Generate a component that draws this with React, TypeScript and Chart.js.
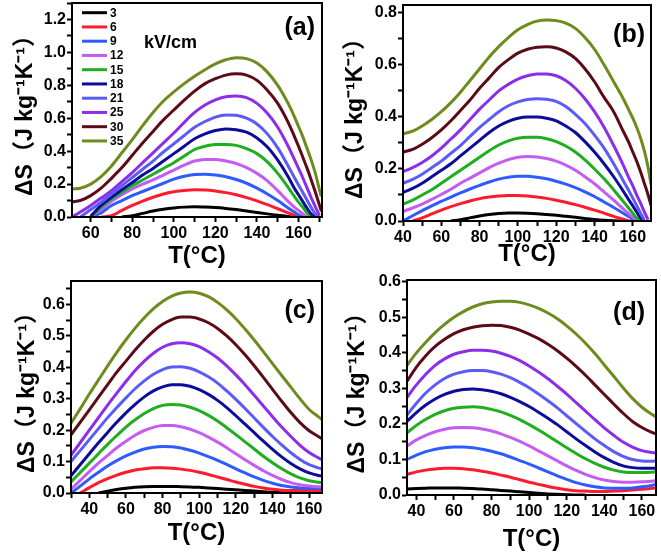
import React, { useEffect, useRef } from "react";
import { Chart, registerables } from "chart.js";
Chart.register(...registerables);

const FONT = "'Liberation Sans', Arial, 'Noto Sans CJK SC', sans-serif";

const fieldLabels = ["3", "6", "9", "12", "15", "18", "21", "25", "30", "35"];
const lineColors = ["#000000", "#ff1a2e", "#2e5bff", "#c45cf2", "#1eae1e", "#0c0c9a", "#5b5bf7", "#8c2ee8", "#5c0b16", "#6e8b1d"];
const n = null;

// ---------- panel (a) ----------
const tempA = [51, 55, 60, 65, 70, 75, 80, 85, 90, 95, 100, 105, 110, 115, 120, 125, 130, 135, 140, 145, 150, 155, 158, 160, 162, 164, 166, 168, 170, 171];
const a3 = [n, n, n, n, n, 0, 0.008, 0.022, 0.036, 0.047, 0.055, 0.06, 0.062, 0.06, 0.057, 0.052, 0.045, 0.037, 0.028, 0.019, 0.01, 0.003, 0, n, n, n, n, n, n, n];
const a6 = [n, n, n, 0, 0.008, 0.04, 0.07, 0.097, 0.12, 0.14, 0.153, 0.161, 0.165, 0.164, 0.158, 0.148, 0.135, 0.118, 0.098, 0.075, 0.05, 0.025, 0.01, 0, n, n, n, n, n, n];
const a9 = [n, n, 0, 0.025, 0.07, 0.1, 0.13, 0.155, 0.18, 0.205, 0.23, 0.248, 0.258, 0.26, 0.255, 0.245, 0.228, 0.205, 0.175, 0.14, 0.1, 0.055, 0.03, 0.012, 0, n, n, n, n, n];
const a12 = [n, n, 0, 0.045, 0.095, 0.135, 0.17, 0.2, 0.225, 0.255, 0.285, 0.315, 0.34, 0.35, 0.35, 0.34, 0.325, 0.3, 0.265, 0.22, 0.16, 0.095, 0.06, 0.04, 0.02, 0, n, n, n, n];
const a15 = [n, n, 0, 0.06, 0.11, 0.15, 0.19, 0.225, 0.26, 0.295, 0.33, 0.37, 0.41, 0.43, 0.44, 0.44, 0.435, 0.415, 0.385, 0.335, 0.265, 0.18, 0.125, 0.09, 0.06, 0.025, 0, n, n, n];
const a18 = [n, n, 0.005, 0.07, 0.12, 0.165, 0.21, 0.255, 0.295, 0.34, 0.385, 0.43, 0.475, 0.505, 0.525, 0.535, 0.53, 0.515, 0.48, 0.425, 0.345, 0.245, 0.175, 0.135, 0.095, 0.055, 0.02, 0, n, n];
const a21 = [n, 0, 0.045, 0.09, 0.14, 0.19, 0.24, 0.29, 0.34, 0.395, 0.445, 0.495, 0.545, 0.58, 0.607, 0.62, 0.618, 0.6, 0.565, 0.505, 0.42, 0.31, 0.24, 0.195, 0.15, 0.105, 0.06, 0.02, 0, n];
const a25 = [0, 0.03, 0.07, 0.115, 0.16, 0.215, 0.27, 0.33, 0.39, 0.45, 0.51, 0.575, 0.635, 0.68, 0.712, 0.73, 0.735, 0.725, 0.69, 0.63, 0.545, 0.43, 0.35, 0.295, 0.24, 0.18, 0.12, 0.065, 0.01, n];
const a30 = [0.093, 0.1, 0.13, 0.175, 0.235, 0.3, 0.375, 0.45, 0.52, 0.59, 0.65, 0.71, 0.765, 0.81, 0.84, 0.862, 0.87, 0.862, 0.83, 0.77, 0.69, 0.575, 0.49, 0.43, 0.365, 0.3, 0.23, 0.155, 0.075, 0.035];
const a35 = [0.17, 0.175, 0.2, 0.245, 0.31, 0.39, 0.47, 0.555, 0.635, 0.705, 0.76, 0.81, 0.855, 0.895, 0.93, 0.955, 0.968, 0.962, 0.935, 0.88, 0.8, 0.69, 0.61, 0.55, 0.49, 0.42, 0.35, 0.27, 0.17, 0.125];

// ---------- panel (b) ----------
const tempB = [40, 45, 50, 55, 60, 65, 70, 75, 80, 85, 90, 95, 100, 105, 110, 115, 120, 125, 130, 135, 140, 145, 150, 155, 158, 160, 162, 164, 166, 168, 169.5];
const b3 = [n, n, n, n, n, 0, 0.005, 0.012, 0.019, 0.025, 0.029, 0.031, 0.031, 0.03, 0.028, 0.025, 0.022, 0.018, 0.014, 0.01, 0.006, 0.003, 0.001, 0, n, n, n, n, n, n, n];
const b6 = [n, 0, 0.012, 0.027, 0.042, 0.055, 0.067, 0.077, 0.086, 0.092, 0.096, 0.098, 0.098, 0.096, 0.092, 0.087, 0.08, 0.072, 0.063, 0.053, 0.042, 0.03, 0.018, 0.007, 0, n, n, n, n, n, n];
const b9 = [0, 0.02, 0.04, 0.058, 0.075, 0.092, 0.108, 0.123, 0.137, 0.15, 0.161, 0.168, 0.172, 0.172, 0.168, 0.162, 0.153, 0.142, 0.128, 0.112, 0.094, 0.073, 0.052, 0.03, 0.017, 0.005, 0, n, n, n, n];
const b12 = [0.037, 0.05, 0.065, 0.083, 0.102, 0.122, 0.145, 0.165, 0.185, 0.205, 0.222, 0.236, 0.245, 0.248, 0.246, 0.24, 0.23, 0.215, 0.195, 0.17, 0.143, 0.112, 0.08, 0.047, 0.027, 0.014, 0.003, 0, n, n, n];
const b15 = [0.065, 0.08, 0.1, 0.12, 0.145, 0.17, 0.195, 0.22, 0.245, 0.27, 0.292, 0.308, 0.318, 0.322, 0.322, 0.316, 0.305, 0.288, 0.265, 0.235, 0.2, 0.162, 0.12, 0.075, 0.048, 0.03, 0.012, 0, n, n, n];
const b18 = [0.11, 0.125, 0.145, 0.17, 0.195, 0.22, 0.25, 0.28, 0.31, 0.34, 0.365, 0.383, 0.395, 0.4, 0.4, 0.395, 0.385, 0.365, 0.34, 0.305, 0.265, 0.22, 0.17, 0.115, 0.08, 0.058, 0.035, 0.012, 0, n, n];
const b21 = [0.145, 0.16, 0.18, 0.205, 0.23, 0.26, 0.29, 0.325, 0.36, 0.39, 0.42, 0.443, 0.458, 0.467, 0.47, 0.468, 0.46, 0.44, 0.41, 0.375, 0.33, 0.28, 0.22, 0.155, 0.115, 0.088, 0.06, 0.03, 0.005, n, n];
const b25 = [0.19, 0.205, 0.225, 0.25, 0.28, 0.315, 0.35, 0.39, 0.43, 0.465, 0.5, 0.525, 0.545, 0.558, 0.565, 0.565, 0.558, 0.54, 0.51, 0.47, 0.42, 0.36, 0.29, 0.215, 0.165, 0.135, 0.1, 0.07, 0.035, 0.005, n];
const b30 = [0.265, 0.275, 0.295, 0.32, 0.35, 0.385, 0.425, 0.465, 0.51, 0.55, 0.59, 0.62, 0.645, 0.66, 0.668, 0.67, 0.665, 0.65, 0.625, 0.585, 0.535, 0.475, 0.42, 0.345, 0.3, 0.265, 0.23, 0.19, 0.145, 0.1, 0.06];
const b35 = [0.335, 0.345, 0.365, 0.39, 0.42, 0.455, 0.495, 0.54, 0.585, 0.63, 0.67, 0.705, 0.735, 0.755, 0.768, 0.772, 0.77, 0.76, 0.74, 0.705, 0.66, 0.6, 0.535, 0.47, 0.425, 0.395, 0.36, 0.32, 0.27, 0.205, 0.14];

// ---------- panel (c) ----------
const tempC = [30, 35, 40, 45, 50, 55, 60, 65, 70, 75, 80, 85, 90, 95, 100, 105, 110, 115, 120, 125, 130, 135, 140, 145, 150, 155, 160, 165, 167];
const c3 = [n, n, n, 0, 0.006, 0.011, 0.015, 0.018, 0.02, 0.021, 0.021, 0.021, 0.02, 0.019, 0.018, 0.016, 0.014, 0.012, 0.01, 0.008, 0.006, 0.004, 0.002, 0.001, 0, n, n, n, n];
const c6 = [n, 0, 0.017, 0.033, 0.046, 0.057, 0.066, 0.073, 0.077, 0.08, 0.08, 0.079, 0.076, 0.072, 0.066, 0.059, 0.051, 0.043, 0.035, 0.028, 0.021, 0.016, 0.012, 0.009, 0.008, 0.008, 0.008, 0.008, 0.008];
const c9 = [0, 0.022, 0.045, 0.066, 0.086, 0.103, 0.118, 0.13, 0.14, 0.146, 0.148, 0.147, 0.143, 0.136, 0.127, 0.116, 0.104, 0.091, 0.077, 0.064, 0.051, 0.04, 0.031, 0.024, 0.019, 0.016, 0.015, 0.015, 0.015];
const c12 = [0.012, 0.04, 0.068, 0.095, 0.12, 0.144, 0.165, 0.184, 0.199, 0.209, 0.215, 0.215, 0.211, 0.203, 0.192, 0.178, 0.162, 0.144, 0.125, 0.106, 0.088, 0.071, 0.056, 0.043, 0.033, 0.026, 0.022, 0.02, 0.02];
const c15 = [0.035, 0.065, 0.095, 0.125, 0.155, 0.183, 0.21, 0.233, 0.253, 0.269, 0.279, 0.282, 0.28, 0.273, 0.262, 0.247, 0.229, 0.208, 0.186, 0.163, 0.14, 0.117, 0.096, 0.077, 0.061, 0.048, 0.039, 0.034, 0.033];
const c18 = [0.055, 0.09, 0.125, 0.16, 0.193, 0.225, 0.255, 0.282, 0.306, 0.325, 0.338, 0.345, 0.345, 0.34, 0.329, 0.314, 0.295, 0.272, 0.246, 0.219, 0.192, 0.165, 0.139, 0.115, 0.094, 0.077, 0.064, 0.056, 0.054];
const c21 = [0.1, 0.135, 0.17, 0.205, 0.24, 0.272, 0.303, 0.332, 0.357, 0.378, 0.393, 0.401, 0.402, 0.397, 0.386, 0.37, 0.35, 0.325, 0.298, 0.269, 0.239, 0.209, 0.18, 0.153, 0.128, 0.107, 0.09, 0.08, 0.077];
const c25 = [0.12, 0.16, 0.2, 0.24, 0.28, 0.318, 0.355, 0.39, 0.42, 0.445, 0.464, 0.475, 0.478, 0.475, 0.466, 0.45, 0.43, 0.405, 0.376, 0.345, 0.311, 0.277, 0.243, 0.21, 0.18, 0.152, 0.129, 0.112, 0.106];
const c30 = [0.185, 0.225, 0.265, 0.305, 0.345, 0.385, 0.42, 0.455, 0.487, 0.515, 0.537, 0.552, 0.56, 0.56, 0.554, 0.542, 0.524, 0.5, 0.472, 0.44, 0.405, 0.368, 0.33, 0.292, 0.256, 0.224, 0.198, 0.18, 0.173];
const c35 = [0.222, 0.268, 0.315, 0.36, 0.405, 0.448, 0.488, 0.525, 0.558, 0.587, 0.61, 0.627, 0.637, 0.64, 0.636, 0.625, 0.607, 0.583, 0.555, 0.522, 0.487, 0.45, 0.412, 0.374, 0.337, 0.3, 0.266, 0.243, 0.234];

// ---------- panel (d) ----------
const tempD = [35, 40, 45, 50, 55, 60, 65, 70, 75, 80, 85, 90, 95, 100, 105, 110, 115, 120, 125, 130, 135, 140, 145, 150, 155, 160, 165, 167.5];
const d3 = [0.017, 0.018, 0.019, 0.02, 0.02, 0.02, 0.019, 0.018, 0.017, 0.015, 0.013, 0.011, 0.009, 0.007, 0.005, 0.003, 0.002, 0.001, 0, 0, n, n, n, n, n, n, n, n];
const d6 = [0.058, 0.065, 0.07, 0.073, 0.075, 0.075, 0.074, 0.071, 0.067, 0.062, 0.056, 0.05, 0.043, 0.036, 0.03, 0.024, 0.019, 0.015, 0.012, 0.011, 0.01, 0.01, 0.011, 0.012, 0.014, 0.016, 0.018, 0.02];
const d9 = [0.1, 0.112, 0.122, 0.129, 0.133, 0.135, 0.135, 0.133, 0.129, 0.123, 0.116, 0.107, 0.097, 0.087, 0.076, 0.065, 0.054, 0.044, 0.035, 0.028, 0.023, 0.02, 0.019, 0.019, 0.02, 0.023, 0.027, 0.03];
const d12 = [0.138, 0.155, 0.168, 0.178, 0.185, 0.189, 0.19, 0.189, 0.186, 0.18, 0.172, 0.162, 0.151, 0.138, 0.124, 0.11, 0.096, 0.082, 0.069, 0.058, 0.049, 0.042, 0.038, 0.036, 0.036, 0.037, 0.039, 0.04];
const d15 = [0.175, 0.196, 0.213, 0.227, 0.237, 0.244, 0.247, 0.248, 0.246, 0.241, 0.234, 0.224, 0.212, 0.198, 0.183, 0.167, 0.15, 0.133, 0.117, 0.102, 0.089, 0.078, 0.07, 0.065, 0.063, 0.063, 0.064, 0.065];
const d18 = [0.207, 0.232, 0.253, 0.27, 0.283, 0.292, 0.297, 0.298, 0.296, 0.292, 0.285, 0.275, 0.263, 0.249, 0.233, 0.216, 0.198, 0.178, 0.158, 0.139, 0.121, 0.105, 0.092, 0.082, 0.077, 0.075, 0.075, 0.076];
const d21 = [0.225, 0.258, 0.287, 0.31, 0.328, 0.34, 0.347, 0.35, 0.35, 0.347, 0.34, 0.33, 0.317, 0.302, 0.284, 0.265, 0.245, 0.223, 0.201, 0.179, 0.158, 0.139, 0.122, 0.109, 0.1, 0.096, 0.095, 0.096];
const d25 = [0.275, 0.31, 0.34, 0.365, 0.383, 0.396, 0.403, 0.407, 0.407, 0.405, 0.399, 0.39, 0.378, 0.363, 0.346, 0.327, 0.306, 0.284, 0.26, 0.236, 0.212, 0.189, 0.168, 0.149, 0.135, 0.125, 0.12, 0.118];
const d30 = [0.32, 0.36, 0.392, 0.418, 0.438, 0.454, 0.465, 0.472, 0.476, 0.478, 0.477, 0.472, 0.464, 0.453, 0.44, 0.424, 0.406, 0.385, 0.362, 0.337, 0.31, 0.283, 0.256, 0.23, 0.207, 0.19, 0.177, 0.172];
const d35 = [0.365, 0.4, 0.43, 0.457, 0.48, 0.5, 0.516, 0.529, 0.538, 0.543, 0.545, 0.545, 0.542, 0.535, 0.525, 0.512, 0.496, 0.476, 0.453, 0.427, 0.398, 0.366, 0.334, 0.302, 0.272, 0.247, 0.228, 0.22];

type PanelSpec = {
  key: string;
  tag: string;
  left: number;
  top: number;
  width: number;
  height: number;
  padTop: number;
  padRight: number;
  yWidth: number;
  xHeight: number;
  xMin: number;
  xMax: number;
  yMax: number;
  yStep: number;
  yMajor: number;
  temps: number[];
  series: (number | null)[][];
  xTitlePad: number;
  yTitlePad: number;
  tagDx: number;
  tagDy: number;
  legend: boolean;
};

const panels: PanelSpec[] = [
  {
    key: "a", tag: "(a)", left: 0, top: 0, width: 330, height: 278, padTop: 3, padRight: 8, yWidth: 72, xHeight: 61,
    xMin: 51, xMax: 171.3, yMax: 1.3, yStep: 0.1, yMajor: 0.2, temps: tempA,
    series: [a3, a6, a9, a12, a15, a18, a21, a25, a30, a35], xTitlePad: 10, yTitlePad: 14, tagDx: 7, tagDy: 25, legend: true,
  },
  {
    key: "b", tag: "(b)", left: 330, top: 0, width: 331, height: 278, padTop: 5, padRight: 10, yWidth: 73, xHeight: 57,
    xMin: 40, xMax: 169.5, yMax: 0.83, yStep: 0.1, yMajor: 0.2, temps: tempB,
    series: [b3, b6, b9, b12, b15, b18, b21, b25, b30, b35], xTitlePad: 12, yTitlePad: 14, tagDx: 6, tagDy: 30, legend: false,
  },
  {
    key: "c", tag: "(c)", left: 0, top: 268, width: 330, height: 289, padTop: 13, padRight: 8, yWidth: 71, xHeight: 64,
    xMin: 30, xMax: 167, yMax: 0.675, yStep: 0.05, yMajor: 0.1, temps: tempC,
    series: [c3, c6, c9, c12, c15, c18, c21, c25, c30, c35], xTitlePad: 12, yTitlePad: 16.5, tagDx: 7, tagDy: 30.5, legend: false,
  },
  {
    key: "d", tag: "(d)", left: 330, top: 268, width: 331, height: 289, padTop: 12, padRight: 5, yWidth: 77, xHeight: 62,
    xMin: 35, xMax: 167.5, yMax: 0.605, yStep: 0.05, yMajor: 0.1, temps: tempD,
    series: [d3, d6, d9, d12, d15, d18, d21, d25, d30, d35], xTitlePad: 6, yTitlePad: 16, tagDx: 11, tagDy: 33, legend: false,
  },
];

function isMultiple(v: number, step: number) {
  return Math.abs(v / step - Math.round(v / step)) < 1e-6;
}

function decor(p: PanelSpec) {
  return {
    id: "decor" + p.key,
    afterDraw(chart: any) {
      const { ctx, chartArea: a } = chart;
      ctx.save();
      ctx.strokeStyle = "#000";
      ctx.lineWidth = 2;
      ctx.strokeRect(a.left, a.top, a.right - a.left, a.bottom - a.top);
      ctx.fillStyle = "#000";
      ctx.textAlign = "right";
      ctx.textBaseline = "middle";
      ctx.font = `bold 25px ${FONT}`;
      ctx.fillText(p.tag, a.right - p.tagDx, a.top + p.tagDy);
      if (p.legend) {
        chart.data.datasets.forEach((ds: any, i: number) => {
          const y = a.top + 9.7 + i * 14.25;
          ctx.strokeStyle = ds.borderColor;
          ctx.lineWidth = 3;
          ctx.beginPath();
          ctx.moveTo(a.left + 10, y);
          ctx.lineTo(a.left + 35, y);
          ctx.stroke();
          ctx.font = `bold 12px ${FONT}`;
          ctx.textAlign = "left";
          ctx.fillStyle = "#000";
          ctx.fillText(String(ds.label), a.left + 38, y + 0.5);
        });
        ctx.font = `bold 18px ${FONT}`;
        ctx.textAlign = "left";
        ctx.fillText("kV/cm", a.left + 72, a.top + 40);
      }
      ctx.restore();
    },
  };
}

function makeConfig(p: PanelSpec): any {
  const datasets = fieldLabels.map((lab, i) => ({
    label: lab,
    data: p.temps
      .map((t, j) => ({ x: t, y: p.series[i][j] }))
      .filter((d) => d.y !== null),
    borderColor: lineColors[i],
    backgroundColor: lineColors[i],
    borderWidth: 3,
    pointRadius: 0,
    pointHoverRadius: 0,
    fill: false,
    cubicInterpolationMode: "monotone",
    order: fieldLabels.length - i,
  }));
  const tickFont = { family: FONT, size: 16, weight: "bold" };
  const zeroPad = (s: any) => {
    s.paddingLeft = 0;
    s.paddingRight = 0;
    s.paddingTop = 0;
    s.paddingBottom = 0;
  };
  return {
    type: "line",
    data: { datasets },
    options: {
      responsive: false,
      maintainAspectRatio: false,
      animation: false,
      events: [],
      layout: { padding: { left: 0, top: p.padTop, right: p.padRight, bottom: 0 } },
      plugins: { legend: { display: false }, tooltip: { enabled: false }, title: { display: false } },
      scales: {
        x: {
          type: "linear",
          min: p.xMin,
          max: p.xMax,
          afterFit: (s: any) => {
            s.height = p.xHeight;
            zeroPad(s);
          },
          ticks: {
            stepSize: 10,
            includeBounds: false,
            autoSkip: false,
            maxRotation: 0,
            minRotation: 0,
            padding: 2,
            color: "#000",
            font: tickFont,
            callback: (v: any) => (isMultiple(Number(v), 20) ? String(Math.round(Number(v))) : ""),
          },
          grid: { display: true, drawOnChartArea: false, drawTicks: true, tickLength: 5, tickWidth: 2, tickColor: "#000" },
          border: { display: true, width: 2, color: "#000" },
          title: {
            display: true,
            text: "T(°C)",
            color: "#000",
            font: { family: FONT, size: 24, weight: "bold", lineHeight: 1 },
            padding: { top: 0, bottom: p.xTitlePad },
          },
        },
        y: {
          type: "linear",
          min: 0,
          max: p.yMax,
          afterFit: (s: any) => {
            s.width = p.yWidth;
            zeroPad(s);
          },
          ticks: {
            stepSize: p.yStep,
            includeBounds: false,
            autoSkip: false,
            padding: 1,
            color: "#000",
            font: tickFont,
            callback: (v: any) => (isMultiple(Number(v), p.yMajor) ? Number(v).toFixed(1) : ""),
          },
          grid: { display: true, drawOnChartArea: false, drawTicks: true, tickLength: 5, tickWidth: 2, tickColor: "#000" },
          border: { display: true, width: 2, color: "#000" },
          title: {
            display: true,
            text: "ΔS（J kg⁻¹K⁻¹）",
            color: "#000",
            font: { family: FONT, size: 23, weight: "bold", lineHeight: 1 },
            padding: { top: p.yTitlePad, bottom: 0 },
          },
        },
      },
    },
    plugins: [decor(p)],
  };
}

function Panel({ p }: { p: PanelSpec }) {
  const ref = useRef<HTMLCanvasElement | null>(null);
  useEffect(() => {
    if (!ref.current) return;
    const chart = new Chart(ref.current, makeConfig(p));
    return () => chart.destroy();
  }, [p]);
  return (
    <canvas
      ref={ref}
      width={p.width}
      height={p.height}
      style={{ position: "absolute", left: p.left, top: p.top, width: p.width, height: p.height, display: "block" }}
    />
  );
}

export default function App() {
  return (
    <div style={{ position: "fixed", left: 0, top: 0, width: 661, height: 557, background: "#fff", overflow: "hidden" }}>
      {panels.map((p) => (
        <Panel key={p.key} p={p} />
      ))}
    </div>
  );
}
